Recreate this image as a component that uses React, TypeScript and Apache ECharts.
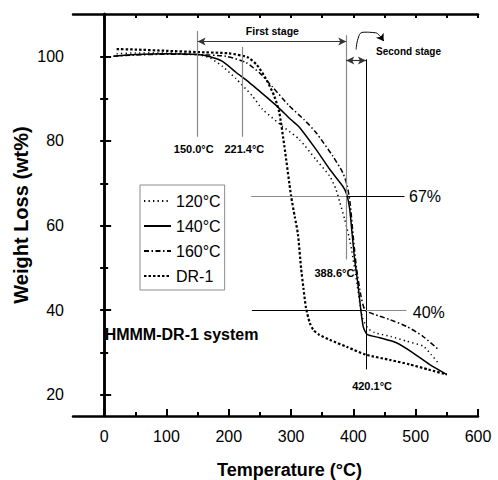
import React, { useEffect, useRef } from "react";
import * as echarts from "echarts";

// ---- data ----
const seriesNames = ["120°C", "140°C", "160°C", "DR-1"];

const t120 = [20, 50, 100, 150, 170, 190, 211, 238, 254, 286, 313, 340, 362, 372, 378, 386, 395, 404, 410, 415, 424, 434, 460, 485, 512, 525, 538];
const w120 = [100.6, 100.8, 100.8, 100.4, 99.6, 97.6, 94.8, 90.6, 87.5, 83.5, 80.4, 75.6, 71.7, 68.6, 65.6, 61.5, 56, 48, 42, 38, 35.6, 34.7, 33.8, 32.7, 31.5, 29.5, 27.2];

const t140 = [15, 50, 100, 150, 170, 190, 211, 233, 250, 276, 300, 313, 340, 362, 383, 389, 394, 398, 402, 407, 412, 416, 422, 442, 469, 495, 522, 550];
const w140 = [100, 100.4, 100.6, 100.4, 99.9, 98.8, 96.3, 93.8, 91.7, 88.4, 85, 83.3, 78, 73.3, 69.3, 67.5, 64, 58, 52, 46.5, 40, 36, 34.3, 33.5, 32.3, 30, 27.2, 24.8];

const t160 = [15, 50, 100, 150, 196, 228, 250, 270, 297, 321, 340, 367, 383, 390, 395, 400, 405, 412, 419, 442, 458, 485, 511, 535];
const w160 = [100, 100.3, 100.5, 100.4, 100, 98.5, 96, 92.8, 88.3, 85, 82, 76.4, 72.5, 69.5, 65, 57, 50, 43.5, 40, 38.6, 37.8, 36.2, 33.9, 30.9];

const tDR1 = [20, 50, 100, 150, 200, 230, 245, 260, 273, 281, 289, 300, 306, 311, 316, 320, 324, 330, 336, 345, 362, 390, 420, 460, 490, 520, 550];
const wDR1 = [101.7, 101.6, 101.3, 101, 100.7, 99.8, 98, 94.6, 90.6, 86.8, 79, 67, 62, 58, 50, 45, 40.5, 37, 35.3, 34.2, 33, 31.3, 29.5, 28.2, 27.2, 26, 24.8];

const xMajorTicks = [0, 100, 200, 300, 400, 500, 600];
const xMinorTicks = [50, 150, 250, 350, 450, 550];
const yMajorTicks = [20, 40, 60, 80, 100];
const yMinorTicks = [30, 50, 70, 90];

const stageTemps = [150.0, 221.4, 388.6, 420.1];
const levelPercents = [67, 40];
const stageNames = ["First stage", "Second stage"];
const systemName = "HMMM-DR-1 system";
const xTitle = "Temperature (°C)";
const yTitle = "Weight Loss (wt%)";

const FONT = "'Liberation Sans', Arial, Helvetica, sans-serif";

const zip = (t: number[], w: number[]) => t.map((v, i) => [v, w[i]]);

export default function App() {
  const ref = useRef<HTMLDivElement>(null);

  useEffect(() => {
    document.body.style.margin = "0";
    const chart = echarts.init(ref.current!, null, { renderer: "svg" });
    const [T150, T221, T388, T420] = stageTemps;
    const [L67, L40] = levelPercents;
    const gray = "#8a8a8a";

    const tempLabel = (t: number) => `${t.toFixed(1)}°C`;
    const smallBold = { fontSize: 11, fontWeight: "bold" };

    const axisCommonX = { type: "value", min: -50, max: 600, splitLine: { show: false } };
    const axisCommonY = { type: "value", min: 15, max: 110, splitLine: { show: false } };
    const lineAx = { show: true, lineStyle: { color: "#000", width: 2.5 } };

    // curved "second stage" arrow (in data coordinates)
    const curveArrow = [
      [404.5, 101.6],
      [407.5, 104.2],
      [418, 105.7],
      [433, 105.6],
      [444, 104.6],
      [448.5, 103.6],
    ];

    const option: any = {
      animation: false,
      grid: { left: 73, right: 20, top: 14, bottom: 64, containLabel: false, outerBoundsMode: "none" },
      legend: {
        data: seriesNames,
        orient: "vertical",
        left: 140,
        top: 185,
        padding: [8, 4, 6, 3],
        itemGap: 9,
        itemWidth: 27,
        itemHeight: 14,
        borderColor: "#8c8c8c",
        borderWidth: 1,
        borderRadius: 0,
        itemStyle: { opacity: 0, color: "rgba(0,0,0,0)", borderWidth: 0 },
        textStyle: { fontSize: 16, color: "#000", fontFamily: FONT },
      },
      xAxis: [
        {
          ...axisCommonX,
          position: "bottom",
          axisLine: lineAx,
          axisTick: { inside: true, length: 7, customValues: xMajorTicks, lineStyle: { color: "#000", width: 2 } },
          axisLabel: { customValues: xMajorTicks, fontSize: 16, color: "#000", margin: 12, fontFamily: FONT },
          name: xTitle,
          nameLocation: "middle",
          nameGap: 45,
          nameMoveOverlap: false,
          nameTextStyle: { fontSize: 18, fontWeight: "bold", color: "#000", fontFamily: FONT, padding: [0, 0, 0, 28] },
        },
        {
          ...axisCommonX,
          position: "top",
          axisLine: lineAx,
          axisTick: { inside: true, length: 4, customValues: [...xMajorTicks, ...xMinorTicks], lineStyle: { color: "#000", width: 2 } },
          axisLabel: { show: false },
        },
        {
          ...axisCommonX,
          position: "bottom",
          axisLine: { show: false },
          axisTick: { inside: true, length: 4, customValues: xMinorTicks, lineStyle: { color: "#000", width: 2 } },
          axisLabel: { show: false },
        },
      ],
      yAxis: [
        {
          ...axisCommonY,
          position: "left",
          axisLine: lineAx,
          axisTick: { inside: true, length: 7, customValues: yMajorTicks, lineStyle: { color: "#000", width: 2 } },
          axisLabel: { customValues: yMajorTicks, fontSize: 16, color: "#000", margin: 9, fontFamily: FONT },
          name: yTitle,
          nameLocation: "middle",
          nameGap: 42,
          nameMoveOverlap: false,
          nameTextStyle: { fontSize: 20, fontWeight: "bold", color: "#000", fontFamily: FONT },
        },
        {
          ...axisCommonY,
          position: "right",
          axisLine: lineAx,
          axisTick: { inside: true, length: 4, customValues: [...yMajorTicks, ...yMinorTicks], lineStyle: { color: "#000", width: 2 } },
          axisLabel: { show: false },
        },
        {
          ...axisCommonY,
          position: "left",
          axisLine: { show: false },
          axisTick: { inside: true, length: 4, customValues: yMinorTicks, lineStyle: { color: "#000", width: 2 } },
          axisLabel: { show: false },
        },
      ],
      series: [
        {
          name: seriesNames[0],
          type: "line",
          data: zip(t120, w120),
          symbol: "none",
          smooth: 0.2,
          lineStyle: { color: "#000", width: 1.5, type: [1.3, 3.2] },
          itemStyle: { color: "#000" },
        },
        {
          name: seriesNames[1],
          type: "line",
          data: zip(t140, w140),
          symbol: "none",
          smooth: 0.2,
          lineStyle: { color: "#000", width: 1.5, type: "solid" },
          itemStyle: { color: "#000" },
          markLine: {
            silent: true,
            symbol: ["none", "none"],
            symbolSize: [6, 8],
            label: { show: false },
            lineStyle: { color: "#000", width: 1, type: "solid" },
            data: [
              [{ coord: [T150, 106], lineStyle: { color: gray, width: 1.2 } }, { coord: [T150, 81] }],
              [{ coord: [T221, 102.2], lineStyle: { color: gray, width: 1.2 } }, { coord: [T221, 81] }],
              [{ coord: [T388, 105], lineStyle: { color: gray, width: 1.2 } }, { coord: [T388, 52] }],
              [{ coord: [T420, 99.3], lineStyle: { color: "#000", width: 1 } }, { coord: [T420, 26] }],
              [{ coord: [T150, 103.5], symbol: "arrow", lineStyle: { color: "#333", width: 1.2 } }, { coord: [T388, 103.5], symbol: "arrow" }],
              [{ coord: [T388, 99], symbol: "arrow", lineStyle: { color: "#333", width: 1.2 } }, { coord: [T420, 99], symbol: "arrow" }],
              [{ coord: [236, L67], lineStyle: { color: gray, width: 1.2 } }, { coord: [T388, L67] }],
              [{ coord: [T388, L67], lineStyle: { color: "#000", width: 1 } }, { coord: [482, L67] }],
              [{ coord: [237, L40], lineStyle: { color: "#000", width: 1 } }, { coord: [T420, L40] }],
              [{ coord: [T420, L40], lineStyle: { color: gray, width: 1.2 } }, { coord: [485, L40] }],
            ],
          },
          markPoint: {
            silent: true,
            symbol: "circle",
            symbolSize: 1,
            itemStyle: { color: "rgba(0,0,0,0)" },
            label: { show: true, position: "inside", color: "#000", fontFamily: FONT, formatter: "{b}" },
            data: [
              { name: stageNames[0], coord: [270, 106.1], label: { fontSize: 10.5, fontWeight: "bold" } },
              { name: stageNames[1], coord: [488.5, 101.2], label: { fontSize: 10, fontWeight: "bold" } },
              { name: tempLabel(T150), coord: [143.8, 78.2], label: smallBold },
              { name: tempLabel(T221), coord: [225, 78], label: smallBold },
              { name: tempLabel(T388), coord: [369.6, 48.9], label: smallBold },
              { name: tempLabel(T420), coord: [430, 22], label: smallBold },
              { name: `${L67}%`, coord: [488.5, 66.8], label: { fontSize: 16, position: "right", distance: 0 } },
              { name: `${L40}%`, coord: [494.5, 39.5], label: { fontSize: 16, position: "right", distance: 0 } },
              { name: systemName, coord: [0, 34.3], label: { fontSize: 16, fontWeight: "bold", position: "right", distance: 0 } },
            ],
          },
        },
        {
          name: seriesNames[2],
          type: "line",
          data: zip(t160, w160),
          symbol: "none",
          smooth: 0.2,
          lineStyle: { color: "#000", width: 1.5, type: [5, 2.5, 1.5, 2.5] },
          itemStyle: { color: "#000" },
        },
        {
          name: seriesNames[3],
          type: "line",
          data: zip(tDR1, wDR1),
          symbol: "none",
          smooth: 0.2,
          lineStyle: { color: "#000", width: 2.2, type: [2.5, 2] },
          itemStyle: { color: "#000" },
        },
        {
          name: "stage-arrow",
          type: "line",
          data: curveArrow,
          symbol: "none",
          smooth: 0.6,
          silent: true,
          lineStyle: { color: "#000", width: 1, type: "solid" },
          markLine: {
            silent: true,
            symbol: ["none", "arrow"],
            symbolSize: 7,
            label: { show: false },
            lineStyle: { color: "#000", width: 1, type: "solid" },
            data: [[{ coord: curveArrow[curveArrow.length - 2] }, { coord: curveArrow[curveArrow.length - 1] }]],
          },
        },
      ],
    };
    chart.setOption(option);
    return () => chart.dispose();
  }, []);

  return <div ref={ref} style={{ width: 498, height: 480 }} />;
}
